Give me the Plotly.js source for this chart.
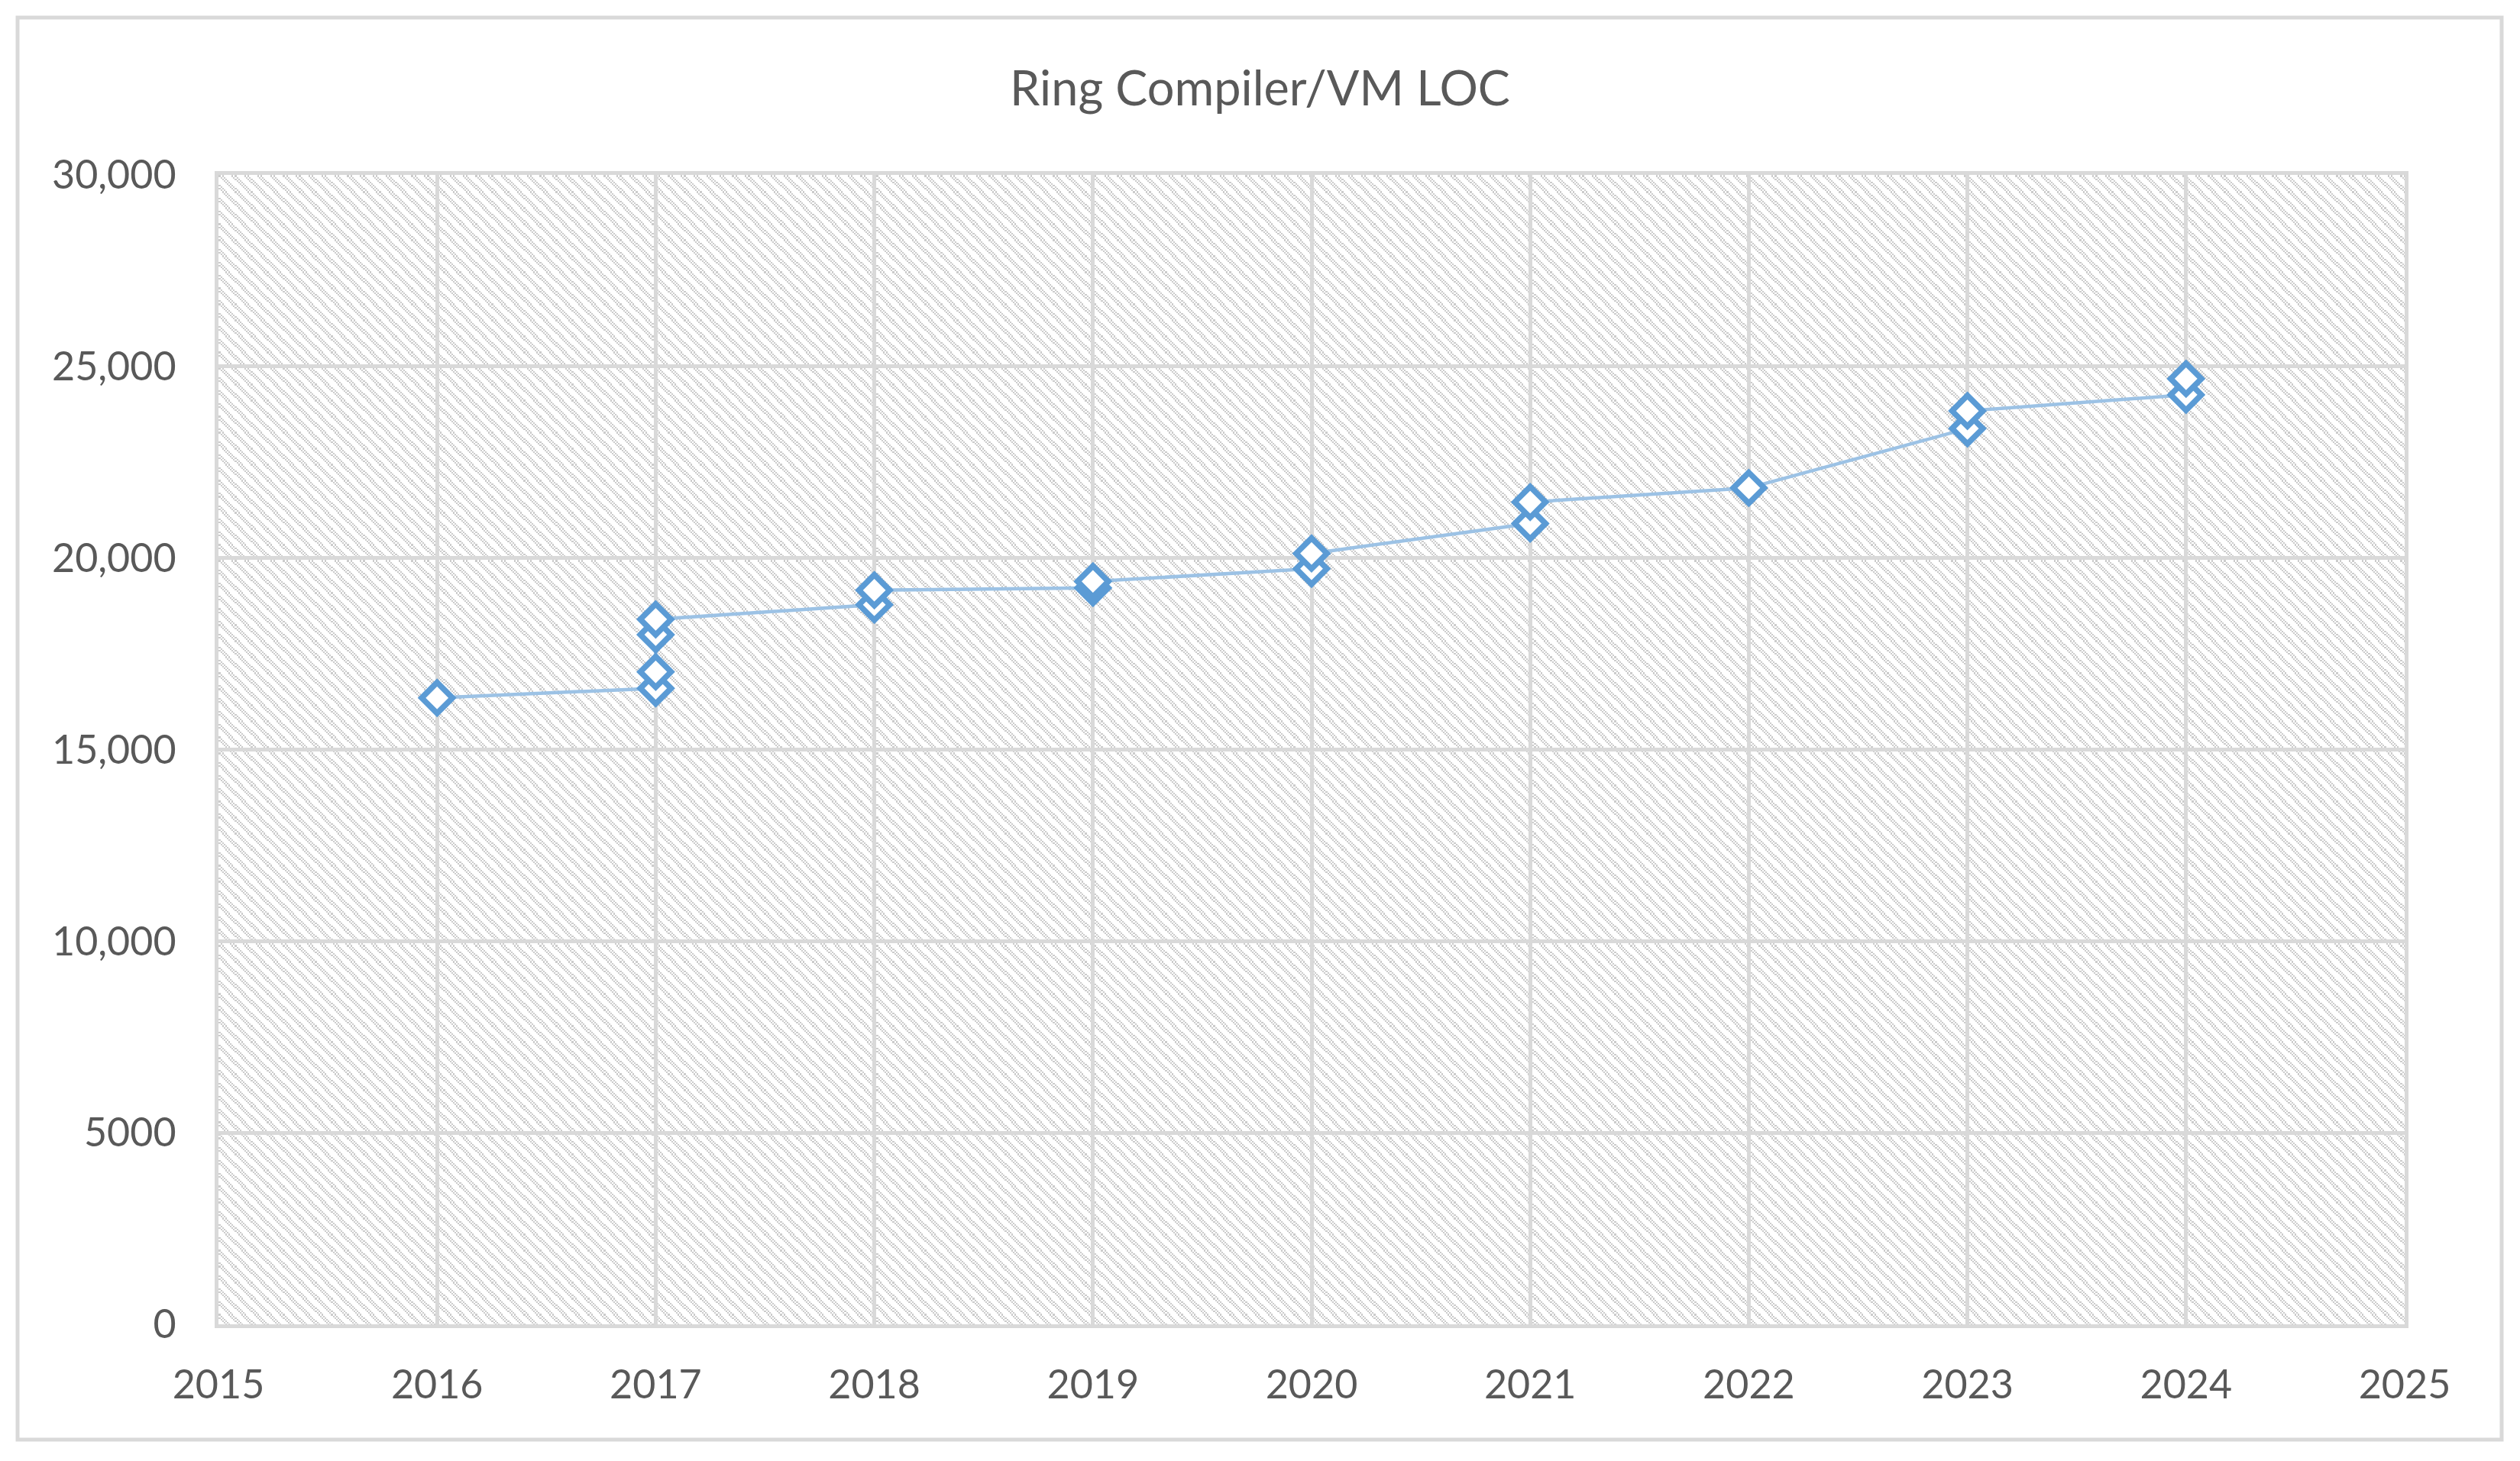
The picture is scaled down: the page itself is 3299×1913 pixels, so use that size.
<!DOCTYPE html>
<html>
<head>
<meta charset="utf-8">
<script src="https://cdn.plot.ly/plotly-3.0.1.min.js"></script>
<style>
html, body { margin: 0; padding: 0; background: #ffffff; }
#chart { width: 3299px; height: 1913px; }
</style>
</head>
<body>
<div id="chart"></div>
<script>
// ---- data ----
const years = [2016, 2017, 2017, 2017, 2017, 2018, 2018, 2019, 2019, 2020, 2020, 2021, 2021, 2022, 2023, 2023, 2024, 2024];
const loc   = [16350, 16600, 17030, 18000, 18400, 18780, 19160, 19220, 19390, 19720, 20120, 20900, 21460, 21830, 23380, 23840, 24260, 24680];
const chartTitle = "Ring Compiler/VM LOC";
const xRange = [2015, 2025];
const xTickVals = [2015, 2016, 2017, 2018, 2019, 2020, 2021, 2022, 2023, 2024, 2025];
const yRange = [0, 30000];
const yTickVals = [0, 5000, 10000, 15000, 20000, 25000, 30000];
const yTickText = ["0", "5000", "10,000", "15,000", "20,000", "25,000", "30,000"];

// ---- layout geometry ----
const W = 3299, H = 1913;
const M = { l: 286, r: 151, t: 229, b: 179 };
const PW = W - M.l - M.r, PH = H - M.t - M.b;

// hatch background (Excel-like downward diagonal pattern)
function makeHatch(w, h) {
  const c = document.createElement('canvas');
  c.width = w; c.height = h;
  const ctx = c.getContext('2d');
  const img = ctx.createImageData(w, h);
  const d = img.data;
  const s = 2.1;
  for (let j = 0; j < h; j++) {
    const v = Math.floor(j / s);
    for (let i = 0; i < w; i++) {
      const u = Math.floor(i / s);
      const k = (((u - v) % 8) + 8) % 8;
      const p = (j * w + i) * 4;
      let g = 255;
      if (k === 0 || k === 2) g = 204;
      d[p] = g; d[p + 1] = g; d[p + 2] = g; d[p + 3] = 255;
    }
  }
  ctx.putImageData(img, 0, 0);
  return c.toDataURL('image/png');
}

const font = "Lato, 'Open Sans', sans-serif";
const textColor = "#595959";
const gridColor = "#d9d9d9";

const trace = {
  type: 'scatter',
  mode: 'lines+markers',
  x: years,
  y: loc,
  line: { color: '#9cc2e5', width: 4.5 },
  marker: {
    symbol: 'diamond',
    size: 31,
    color: '#ffffff',
    line: { color: '#5b9bd5', width: 7.5 }
  },
  hoverinfo: 'x+y',
  showlegend: false
};

const layout = {
  width: W,
  height: H,
  margin: M,
  paper_bgcolor: '#ffffff',
  plot_bgcolor: 'rgba(0,0,0,0)',
  showlegend: false,
  title: {
    text: chartTitle,
    font: { family: font, size: 63, color: textColor },
    x: 0.5,
    xref: 'container',
    xanchor: 'center',
    y: 1 - 116 / H,
    yref: 'container',
    yanchor: 'middle'
  },
  xaxis: {
    range: xRange,
    tickmode: 'array',
    tickvals: xTickVals,
    ticktext: xTickVals.map(String),
    showgrid: true,
    gridcolor: gridColor,
    gridwidth: 5,
    zeroline: false,
    showline: true,
    linecolor: gridColor,
    linewidth: 5,
    mirror: true,
    ticks: '',
    ticklabelstandoff: 30,
    tickfont: { family: font, size: 52, color: textColor },
    fixedrange: true
  },
  yaxis: {
    range: yRange,
    tickmode: 'array',
    tickvals: yTickVals,
    ticktext: yTickText,
    showgrid: true,
    gridcolor: gridColor,
    gridwidth: 5,
    zeroline: false,
    showline: true,
    linecolor: gridColor,
    linewidth: 5,
    mirror: true,
    ticks: '',
    ticklabelstandoff: 40,
    tickfont: { family: font, size: 52, color: textColor },
    fixedrange: true
  },
  images: [{
    source: makeHatch(PW, PH),
    xref: 'paper', yref: 'paper',
    x: 0, y: 1, sizex: 1, sizey: 1,
    xanchor: 'left', yanchor: 'top',
    sizing: 'stretch',
    layer: 'below'
  }],
  shapes: [{
    type: 'rect',
    xref: 'paper', yref: 'paper',
    x0: (23 - M.l) / PW,
    x1: (W - 24 - M.l) / PW,
    y0: -(H - 28 - (H - M.b)) / PH,
    y1: (H - M.b - 23) / PH,
    line: { color: gridColor, width: 5 },
    fillcolor: 'rgba(0,0,0,0)',
    layer: 'below'
  }]
};

Plotly.newPlot('chart', [trace], layout, { displayModeBar: false, staticPlot: true });
</script>
</body>
</html>
